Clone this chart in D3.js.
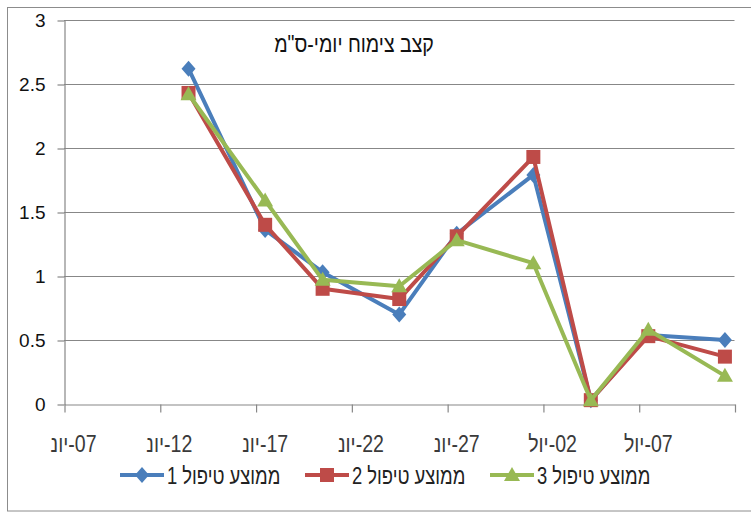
<!DOCTYPE html>
<html>
<head>
<meta charset="utf-8">
<script src="https://cdn.jsdelivr.net/npm/d3@7"></script>
<style>
  body { margin: 0; background: #fff; }
  svg { display: block; font-family: "Liberation Sans", Arial, sans-serif; }
</style>
</head>
<body>
<div id="chart"></div>
<script>
// data
var pointDates = ["2012-06-13", "2012-06-17", "2012-06-20", "2012-06-24", "2012-06-27",
                  "2012-07-01", "2012-07-04", "2012-07-07", "2012-07-11"];
var seriesNames = ["ממוצע טיפול 1", "ממוצע טיפול 2", "ממוצע טיפול 3"];
var series1 = [2.62, 1.36, 1.03, 0.70, 1.33, 1.79, 0.03, 0.54, 0.50];
var series2 = [2.43, 1.40, 0.90, 0.82, 1.31, 1.93, 0.03, 0.53, 0.37];
var series3 = [2.42, 1.59, 0.97, 0.92, 1.28, 1.10, 0.03, 0.58, 0.22];
var xTickDates = ["2012-06-07", "2012-06-12", "2012-06-17", "2012-06-22", "2012-06-27",
                  "2012-07-02", "2012-07-07", "2012-07-12"];
var xTickLabels = ["07-יונ", "12-יונ", "17-יונ", "22-יונ", "27-יונ", "02-יול", "07-יול", ""];
var yTicks = [0, 0.5, 1, 1.5, 2, 2.5, 3];
var title = "קצב צימוח יומי-ס\"מ";

var width = 751;
var height = 513;
var colors = ["#4A7EBB", "#BE4B48", "#98B954"];
var shapes = ["diamond", "square", "triangle"];
var gridColor = "#878787";

var parse = d3.utcParse("%Y-%m-%d");
var halfDay = 12 * 3600 * 1000;
// excel date axis: each point sits in the middle of its day slot
function slot(d) { return new Date(parse(d).getTime() + halfDay); }

// the source text is narrow and tall, so squeeze it sideways
function at(px, py, sx) {
  return "translate(" + px + "," + py + ") scale(" + sx + ",1)";
}

var x = d3.scaleUtc()
  .domain([parse("2012-06-07"), parse("2012-07-12")])
  .range([64, 734.5]);

var y = d3.scaleLinear()
  .domain([0, 3])
  .range([404, 20]);

var svg = d3.select("#chart").append("svg")
  .attr("width", width)
  .attr("height", height);

svg.append("rect")
  .attr("x", 7.5).attr("y", 7.5)
  .attr("width", 750).attr("height", 503.5)
  .attr("fill", "#fff")
  .attr("stroke", "#8c8c8c");

// gridlines
svg.append("g")
  .selectAll("line")
  .data(yTicks.filter(function(v) { return v > 0; }))
  .enter().append("line")
    .attr("x1", x.range()[0]).attr("x2", x.range()[1])
    .attr("y1", function(d) { return Math.round(y(d)) + 0.5; })
    .attr("y2", function(d) { return Math.round(y(d)) + 0.5; })
    .attr("stroke", gridColor)
    .attr("stroke-width", 1.2);

// y axis
var yAxis = svg.append("g")
  .attr("transform", "translate(64.5,0.5)")
  .call(d3.axisLeft(y).tickValues(yTicks).tickSize(7).tickSizeOuter(0).tickPadding(12)
    .tickFormat(function(d) { return String(d); }));

yAxis.selectAll("text")
  .attr("font-size", 19)
  .attr("fill", "#111")
  .attr("font-family", "Liberation Sans, Arial, sans-serif");

// x axis
var xAxis = svg.append("g")
  .attr("transform", "translate(0.5,404.5)")
  .call(d3.axisBottom(x).tickValues(xTickDates.map(parse)).tickSize(8).tickSizeOuter(0)
    .tickFormat(""));

svg.selectAll(".domain, .tick line").attr("stroke", gridColor).attr("stroke-width", 1.2);

svg.append("g")
  .selectAll("text")
  .data(xTickDates.map(function(d, i) { return { date: d, label: xTickLabels[i] }; })
    .filter(function(d) { return d.label !== ""; }))
  .enter().append("text")
    .attr("transform", function(d) { return at(x(slot(d.date)), 452, 0.85); })
    .attr("text-anchor", "middle")
    .attr("direction", "rtl")
    .attr("font-size", 23)
    .attr("fill", "#3a3a3a")
    .text(function(d) { return d.label; });

// title
svg.append("text")
  .attr("transform", at(354, 52, 0.85))
  .attr("text-anchor", "middle")
  .attr("font-size", 23)
  .attr("fill", "#111")
  .text(title);

function marker(shape) {
  if (shape === "diamond") return "M0,-8L7,0L0,8L-7,0Z";
  if (shape === "square") return "M-7,-7H7V7H-7Z";
  return "M0,-8L8,6H-8Z";
}

var line = d3.line()
  .x(function(d) { return x(slot(d.date)); })
  .y(function(d) { return y(d.value); });

var allSeries = [series1, series2, series3].map(function(vals, i) {
  return {
    name: seriesNames[i],
    color: colors[i],
    shape: shapes[i],
    values: vals.map(function(v, j) { return { date: pointDates[j], value: v }; })
  };
});

var plot = svg.append("g");

allSeries.forEach(function(s) {
  var g = plot.append("g");
  g.append("path")
    .attr("d", line(s.values))
    .attr("fill", "none")
    .attr("stroke", s.color)
    .attr("stroke-width", 4)
    .attr("stroke-linejoin", "round");
  g.selectAll("path.mark")
    .data(s.values)
    .enter().append("path")
      .attr("class", "mark")
      .attr("transform", function(d) { return "translate(" + x(slot(d.date)) + "," + y(d.value) + ")"; })
      .attr("d", marker(s.shape))
      .attr("fill", s.color);
});

// legend
var legendX = [120, 305, 490];
var legend = svg.append("g")
  .attr("transform", "translate(0,475)");

allSeries.forEach(function(s, i) {
  var item = legend.append("g").attr("transform", "translate(" + legendX[i] + ",0)");
  item.append("line")
    .attr("x1", 0).attr("x2", 44)
    .attr("stroke", s.color)
    .attr("stroke-width", 4);
  item.append("path")
    .attr("transform", "translate(22,0)")
    .attr("d", marker(s.shape))
    .attr("fill", s.color);
  item.append("text")
    .attr("transform", at(47, 9, 0.8))
    .attr("font-size", 23)
    .attr("fill", "#222")
    .text(s.name);
});
</script>
</body>
</html>
